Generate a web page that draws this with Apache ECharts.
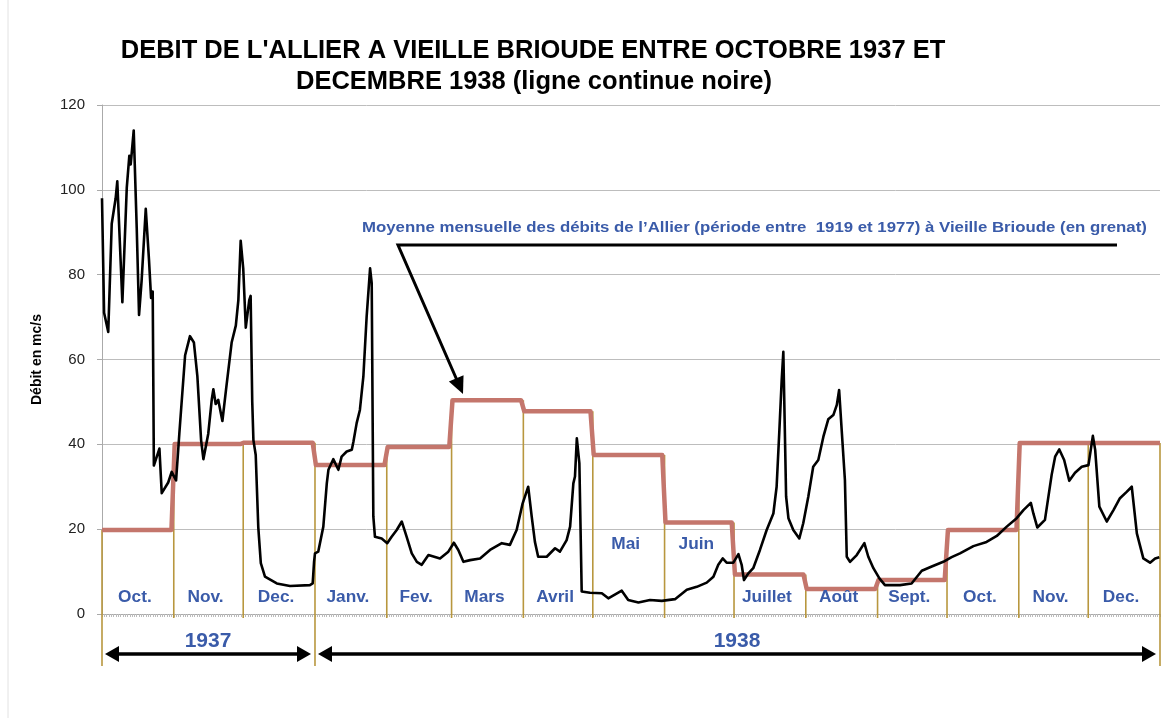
<!DOCTYPE html>
<html>
<head>
<meta charset="utf-8">
<script src="https://cdn.jsdelivr.net/npm/echarts@6/dist/echarts.min.js"></script>
<style>
  html, body { margin: 0; padding: 0; background: #fff; }
  #chart { width: 1170px; height: 718px; }
</style>
</head>
<body>
<div id="chart"></div>
<script>
// mois (oct. 1937 -> dec. 1938)
const monthNames = ['Oct.', 'Nov.', 'Dec.', 'Janv.', 'Fev.', 'Mars', 'Avril', 'Mai', 'Juin', 'Juillet', 'Août', 'Sept.', 'Oct.', 'Nov.', 'Dec.'];
const monthDays = [31, 30, 31, 31, 28, 31, 30, 31, 30, 31, 31, 30, 31, 30, 31];
// moyenne mensuelle 1919-1977 (grenat)
const monthMeans = [19.8, 40.1, 40.4, 35.1, 39.4, 50.4, 47.8, 37.5, 21.6, 9.3, 5.9, 8.0, 19.8, 40.3, 40.3];
const yearNames = ['1937', '1938'];

// debit journalier (jours depuis le 1er oct. 1937)
const flowDays = [
  0, 0.9, 1.3, 2.7, 4.2, 5.9, 6.6, 8.8, 10.7, 11.8, 12.4, 13.7, 15, 16, 17.1, 18.9, 20.3, 21.2, 21.9, 22.4,
  24.8, 25.8, 28.6, 30.1, 32, 33.4, 35.9, 38, 39.7, 41.2, 42.8, 43.8, 45.9, 47.4, 48.1, 49.1, 50.2, 52, 53.6,
  56, 57.8, 58.9, 59.9, 61, 62.1, 63.6, 64.2, 64.9, 65.4, 66.4, 67.5, 68.6, 70.4, 75.5, 81.2, 89.8, 91,
  91.6, 92, 93.4, 95.6, 97.1, 97.8, 99.9, 102.1, 103.5, 105.7, 107.9, 108.6, 110, 111.4, 112.9, 114.3, 115.8,
  116.5, 117.2, 117.9, 120.8, 123.2, 125.1, 127.3, 129.5, 131.6, 133.8, 136, 138.1, 141, 146, 149.6, 152,
  153.9, 156.1, 159, 163.3, 167.6, 172.7, 176.2, 179.1, 181.7, 184.1, 185.6, 187, 188.4, 192.1, 195.7, 197.8,
  200.7, 202.2, 203.6, 204.3, 205.1, 206.2, 207.2, 210.8, 215.9, 218.7, 224.5, 227.3, 231.7, 236.7, 241.8,
  247.5, 252.6, 256.9, 261.2, 264.1, 266.2, 268.1, 269.8, 272.7, 274.9, 276.3, 277.3, 279.2, 281.3, 284.2,
  287.1, 290, 291.4, 292.6, 293.6, 294.3, 295.5, 296.5, 298.6, 301.2, 302.9, 305.1, 307.2, 309.4, 311.6,
  313.7, 315.9, 317.4, 318.4, 319.5, 320.9, 321.7, 323.1, 326, 329.3, 331, 333.2, 335.8, 338.2, 344.7, 349.7,
  354.1, 358.4, 363.4, 367, 370.6, 376.4, 382.1, 386.5, 390.8, 395.1, 398, 401.2, 402.3, 404, 407.3, 410.2,
  411.7, 413.5, 415.6, 417.8, 420.3, 423.2, 426.1, 428, 429, 430.8, 434, 436.9, 439.7, 442.6, 444.8, 447,
  449.8, 452.7, 454.9, 456.7
];
const flowValues = [
  98, 71, 70, 66.5, 92, 98, 102, 73.5, 100.5, 108, 106, 114, 91, 70.5, 78.5, 95.5, 83.5, 74.5, 76, 35,
  39, 28.5, 31, 33.5, 31.5, 42.5, 61, 65.5, 64, 56, 41, 36.5, 42.5, 50.5, 53, 49.5, 50.5, 45.5, 53,
  64, 68, 74, 88, 81.5, 67.5, 74, 75, 50, 41, 37.5, 20.5, 12, 8.8, 7.2, 6.6, 6.8, 7.2,
  12.3, 14.3, 14.7, 20.6, 30.8, 34, 36.5, 34, 37.1, 38.3, 38.7, 40.6, 45, 48.1, 56, 70, 81.5,
  78, 23, 18.2, 17.8, 16.7, 18.2, 19.8, 21.8, 18.2, 14.3, 12.3, 11.6, 13.9, 13.1, 14.7, 16.8,
  15.1, 12.3, 12.7, 13.1, 15.1, 16.7, 16.3, 19.8, 26.1, 30, 23, 17, 13.5, 13.5, 15.5, 14.7,
  17.4, 20.6, 30.8, 32.4, 41.4, 35.5, 5.3, 5, 4.9, 3.7, 5.5, 3.3, 2.7, 3.3, 3.1,
  3.5, 5.7, 6.4, 7.4, 8.8, 11.6, 13.1, 12.1, 12.1, 14.1, 11.6, 8, 9.6, 10.8, 15.1,
  19.8, 23.7, 30, 43.4, 55.2, 61.8, 27.7, 22.6, 19.8, 17.8, 21.4, 27.7, 34.7, 36.3, 41.8,
  45.9, 46.9, 49.3, 52.8, 43.4, 31.6, 13.5, 12.3, 13.9, 16.7, 13.5, 10.8, 8.4, 6.8, 6.8, 7.2,
  10.2, 11.2, 12.3, 13.4, 14.3, 16, 17, 18.4, 20.6, 22.6, 24.5, 26.2, 23.7, 20.4, 22.2, 32.8,
  37.1, 38.8, 36.3, 31.4, 33.3, 34.7, 35.1, 42, 38.7, 25.3, 21.8, 24.5, 27.3, 28.8, 30, 19,
  13.1, 12.1, 13.1, 13.4
];

const BLUE = '#3a5ba9';
const GRENAT = '#c4766c';
const TAN = '#b8973e';
const FONT = '"Liberation Sans", Arial, sans-serif';

const monthStarts = [];
let acc = 0;
monthDays.forEach(d => { monthStarts.push(acc); acc += d; });
const totalDays = acc;

// debuts d'annee : oct. 1937 et janv. 1938
const yearStarts = [0, monthStarts[monthNames.indexOf('Janv.')]];
const yearRanges = yearNames.map((n, i) => [yearStarts[i], i + 1 < yearStarts.length ? yearStarts[i + 1] : totalDays, i]);

const flowData = flowDays.map((d, i) => [d, flowValues[i]]);

const meanData = [];
monthMeans.forEach((v, i) => {
  const s = monthStarts[i], e = s + monthDays[i];
  meanData.push([i === 0 ? s : s + 0.4, v]);
  meanData.push([i === monthMeans.length - 1 ? e : e - 1, v]);
});

const boundaryData = monthStarts.concat([totalDays]).map((d, i) => {
  const a = i > 0 ? monthMeans[i - 1] : 0;
  const b = i < monthMeans.length ? monthMeans[i] : 0;
  const ext = (yearStarts.indexOf(d) >= 0 || d === totalDays) ? 1 : 0;
  return [d, Math.max(a, b), ext];
});

const labelData = monthNames.map((n, i) => [monthStarts[i] + monthDays[i] / 2, 0, i]);

const chart = echarts.init(document.getElementById('chart'));

function arrowHead(tip, dir, len, half) {
  const px = -dir[1], py = dir[0];
  const bx = tip[0] - dir[0] * len, by = tip[1] - dir[1] * len;
  return [[tip[0], tip[1]], [bx + px * half, by + py * half], [bx - px * half, by - py * half]];
}

// fleche de l'annotation
const annStart = [1117, 245], annCorner = [398, 245], annTip = [463, 394];
const annLen = Math.hypot(annTip[0] - annCorner[0], annTip[1] - annCorner[1]);
const annDir = [(annTip[0] - annCorner[0]) / annLen, (annTip[1] - annCorner[1]) / annLen];

const option = {
  animation: false,
  backgroundColor: '#fff',
  grid: { left: 102, right: 10, top: 105, bottom: 104 },
  graphic: [
    { type: 'line', shape: { x1: 8, y1: 0, x2: 8, y2: 718 }, style: { stroke: '#e2e2e2', lineWidth: 1 } },
    {
      type: 'text', x: 533, y: 51,
      style: { text: "DEBIT DE L'ALLIER A VIEILLE BRIOUDE ENTRE OCTOBRE 1937 ET", font: 'bold 25.5px ' + FONT, fill: '#000', textAlign: 'center', textVerticalAlign: 'middle' }
    },
    {
      type: 'text', x: 534, y: 82,
      style: { text: 'DECEMBRE 1938 (ligne continue noire)', font: 'bold 25.5px ' + FONT, fill: '#000', textAlign: 'center', textVerticalAlign: 'middle' }
    },
    {
      type: 'text', x: 362, y: 228, scaleX: 1.12, scaleY: 1,
      style: { text: 'Moyenne mensuelle des débits de l’Allier (période entre  1919 et 1977) à Vieille Brioude (en grenat)', font: 'bold 15px ' + FONT, fill: BLUE, textAlign: 'left', textVerticalAlign: 'middle' }
    },
    {
      type: 'polyline', z: 50,
      shape: { points: [annStart, annCorner, [annTip[0] - annDir[0] * 12, annTip[1] - annDir[1] * 12]] },
      style: { stroke: '#000', lineWidth: 3, fill: null }
    },
    {
      type: 'polygon', z: 50,
      shape: { points: arrowHead(annTip, annDir, 17, 8) },
      style: { fill: '#000' }
    }
  ],
  xAxis: {
    type: 'value', min: 0, max: totalDays, interval: 1,
    axisLine: { lineStyle: { color: '#aaa', width: 1 } },
    axisTick: { show: true, length: 3, lineStyle: { color: '#bbb', width: 1 } },
    axisLabel: { show: false },
    splitLine: { show: false }
  },
  yAxis: {
    type: 'value', min: 0, max: 120, interval: 20,
    name: 'Débit en mc/s', nameLocation: 'middle', nameRotate: 90, nameGap: 58,
    nameTextStyle: { fontFamily: FONT, fontWeight: 'bold', fontSize: 14, color: '#000' },
    axisLine: { show: true, lineStyle: { color: '#aaa', width: 1 } },
    axisTick: { show: true, length: 5, lineStyle: { color: '#aaa' } },
    axisLabel: { fontFamily: FONT, fontSize: 15, color: '#222', margin: 17 },
    splitLine: { lineStyle: { color: '#bdbdbd', width: 1 } }
  },
  series: [
    {
      // traits verticaux des mois
      type: 'custom', z: 2, silent: true,
      data: boundaryData,
      renderItem: function (params, api) {
        const top = api.coord([api.value(0), api.value(1)]);
        const bot = api.coord([api.value(0), 0]);
        const extra = api.value(2) ? 52 : 4;
        return {
          type: 'line',
          shape: { x1: top[0], y1: top[1], x2: bot[0], y2: bot[1] + extra },
          style: { stroke: TAN, lineWidth: 1.6 }
        };
      }
    },
    {
      type: 'line', z: 3, name: 'Moyenne', data: meanData,
      showSymbol: false, silent: true,
      lineStyle: { color: GRENAT, width: 4.5, join: 'round' }
    },
    {
      type: 'line', z: 5, name: 'Débit', data: flowData,
      showSymbol: false, silent: true,
      lineStyle: { color: '#000', width: 2.6, join: 'round' }
    },
    {
      // noms des mois
      type: 'custom', z: 6, silent: true,
      data: labelData,
      renderItem: function (params, api) {
        const i = api.value(2);
        const p = api.coord([api.value(0), 0]);
        const raised = monthNames[i] === 'Mai' || monthNames[i] === 'Juin';
        return {
          type: 'text',
          x: p[0] - 3, y: p[1] - (raised ? 69 : 16), scaleX: 1.08, scaleY: 1,
          style: { text: monthNames[i], font: 'bold 16px ' + FONT, fill: BLUE, textAlign: 'center', textVerticalAlign: 'middle' }
        };
      }
    },
    {
      // annees avec fleches doubles
      type: 'custom', z: 6, silent: true,
      data: yearRanges,
      renderItem: function (params, api) {
        const a = api.coord([api.value(0), 0]);
        const b = api.coord([api.value(1), 0]);
        const y = a[1] + 40;
        const x1 = a[0] + 3, x2 = b[0] - 4;
        return {
          type: 'group',
          children: [
            { type: 'line', shape: { x1: x1 + 10, y1: y, x2: x2 - 10, y2: y }, style: { stroke: '#000', lineWidth: 3.5 } },
            { type: 'polygon', shape: { points: arrowHead([x1, y], [-1, 0], 14, 8) }, style: { fill: '#000' } },
            { type: 'polygon', shape: { points: arrowHead([x2, y], [1, 0], 14, 8) }, style: { fill: '#000' } },
            {
              type: 'text', x: (x1 + x2) / 2, y: a[1] + 27,
              style: { text: yearNames[api.value(2)], font: 'bold 21px ' + FONT, fill: BLUE, textAlign: 'center', textVerticalAlign: 'middle' }
            }
          ]
        };
      }
    }
  ]
};

chart.setOption(option);
</script>
</body>
</html>
